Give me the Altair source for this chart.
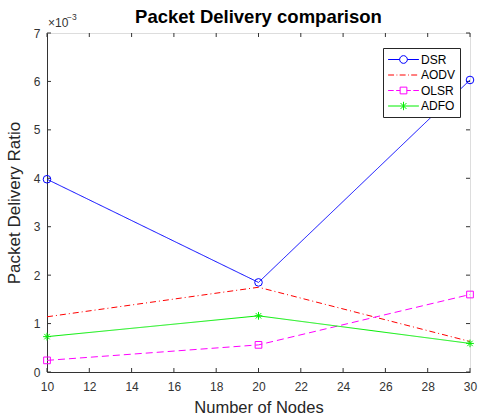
import altair as alt
import pandas as pd

nodes = [10, 20, 30]
series_names = ["DSR", "AODV", "OLSR", "ADFO"]
dsr = [0.00398, 0.00185, 0.00603]
aodv = [0.00114, 0.00175, 0.00063]
olsr = [0.00024, 0.00056, 0.00160]
adfo = [0.00073, 0.00116, 0.00059]
x_ticks = [10, 12, 14, 16, 18, 20, 22, 24, 26, 28, 30]
y_ticks = [0, 0.001, 0.002, 0.003, 0.004, 0.005, 0.006, 0.007]
title_text = ["Packet Delivery comparison"]

colors = ["#0000ff", "#ff0000", "#ff00ff", "#00ee00"]
dashes = [[1, 0], [6, 3, 1, 3], [7, 4], [1, 0]]
ASTER = "M0,-1L0,1M-1,0L1,0M-0.7,-0.7L0.7,0.7M-0.7,0.7L0.7,-0.7"
markers = ["circle", None, "square", ASTER]
marker_sizes = [58, 0, 45, 60]

legend_paths = [
    "M-2.2,0L-0.55,0M0.55,0L2.2,0M-0.55,0A0.55,0.55,0,1,1,0.55,0A0.55,0.55,0,1,1,-0.55,0Z",
    "M-2.2,0L-1.35,0M-1.0,0L-0.88,0M-0.55,0L0.3,0M0.65,0L0.77,0M1.1,0L1.95,0",
    "M-2.2,0L-1.4,0M-1.05,0L-0.48,0M0.48,0L1.05,0M1.4,0L2.2,0M-0.48,-0.48L0.48,-0.48L0.48,0.48L-0.48,0.48Z",
    "M-2.2,0L2.2,0M0,-0.6L0,0.6M-0.42,-0.42L0.42,0.42M-0.42,0.42L0.42,-0.42",
]

values = [dsr, aodv, olsr, adfo]
rows = []
for name, vals in zip(series_names, values):
    for n, v in zip(nodes, vals):
        rows.append({"nodes": n, "value": v, "series": name})
df = pd.DataFrame(rows)

W, H = 423, 339
FONT = "Liberation Sans"

xscale = alt.Scale(domain=[10, 30], nice=False, zero=False)
yscale = alt.Scale(domain=[0, 0.007], nice=False)

base = alt.Chart(df)

layers = []
axes_layer = base.mark_point(opacity=0).encode(
    x=alt.X("nodes:Q", scale=xscale,
            axis=alt.Axis(values=x_ticks, ticks=False, grid=False, title="Number of Nodes",
                          labelFontSize=12, labelColor="#333", labelFont=FONT, labelPadding=9,
                          titleFontSize=16.5, titleFont=FONT, titleFontWeight="normal",
                          titleColor="#262626", titlePadding=7, domainColor="#333",
                          labelFlush=False)),
    y=alt.Y("value:Q", scale=yscale,
            axis=alt.Axis(values=y_ticks, ticks=False, grid=False, title="Packet Delivery Ratio",
                          labelExpr="format(datum.value*1000, 'd')",
                          labelFontSize=12, labelColor="#333", labelFont=FONT, labelPadding=7,
                          titleFontSize=17, titleFont=FONT, titleFontWeight="normal",
                          titleColor="#262626", titlePadding=10, domainColor="#333")),
)
layers.append(axes_layer)

xt = pd.DataFrame({"t": x_ticks})
yt = pd.DataFrame({"t": y_ticks})
tick_color = "#333"
layers.append(alt.Chart(xt).mark_rule(color=tick_color, strokeWidth=1).encode(
    x=alt.X("t:Q", scale=xscale), y=alt.value(H), y2=alt.value(H - 4)))
layers.append(alt.Chart(xt).mark_rule(color=tick_color, strokeWidth=1).encode(
    x=alt.X("t:Q", scale=xscale), y=alt.value(0), y2=alt.value(4)))
layers.append(alt.Chart(yt).mark_rule(color=tick_color, strokeWidth=1).encode(
    y=alt.Y("t:Q", scale=yscale), x=alt.value(0), x2=alt.value(4)))
layers.append(alt.Chart(yt).mark_rule(color=tick_color, strokeWidth=1).encode(
    y=alt.Y("t:Q", scale=yscale), x=alt.value(W), x2=alt.value(W - 4)))

for name, c, d, m, s in zip(series_names, colors, dashes, markers, marker_sizes):
    sub = base.transform_filter(alt.datum.series == name)
    layers.append(sub.mark_line(color=c, strokeWidth=1, strokeDash=d).encode(
        x=alt.X("nodes:Q", scale=xscale), y=alt.Y("value:Q", scale=yscale)))
    if m is not None:
        layers.append(sub.mark_point(shape=m, color=c, filled=False, size=s, strokeWidth=1,
                                     opacity=1).encode(
            x=alt.X("nodes:Q", scale=xscale), y=alt.Y("value:Q", scale=yscale)))

legend_layer = base.mark_point(opacity=0, filled=False).encode(
    x=alt.X("nodes:Q", scale=xscale),
    y=alt.Y("value:Q", scale=yscale),
    color=alt.Color("series:N", scale=alt.Scale(domain=series_names, range=colors),
                    legend=alt.Legend(title=None, orient="none", legendX=336, legendY=15,
                                      strokeColor="#262626", fillColor="white", padding=4,
                                      symbolSize=196, symbolStrokeWidth=1, symbolOpacity=1,
                                      labelFontSize=12, labelFont=FONT, labelColor="#000",
                                      labelOffset=10, rowPadding=1.5, symbolOffset=9)),
    shape=alt.Shape("series:N", scale=alt.Scale(domain=series_names, range=legend_paths),
                    legend=alt.Legend(title=None, orient="none", legendX=336, legendY=15)),
)
layers.append(legend_layer)

mult = pd.DataFrame({"txt": ["\u00d710"]})
sup = pd.DataFrame({"txt": ["\u22123"]})
ttl = pd.DataFrame({"txt": title_text})
layers.append(alt.Chart(mult).mark_text(align="left", baseline="alphabetic", fontSize=12,
                                         font=FONT, color="#333").encode(
    text="txt:N", x=alt.value(1), y=alt.value(-6)))
layers.append(alt.Chart(sup).mark_text(align="left", baseline="alphabetic", fontSize=8.5,
                                        font=FONT, color="#333").encode(
    text="txt:N", x=alt.value(20), y=alt.value(-13)))
layers.append(alt.Chart(ttl).mark_text(align="center", baseline="alphabetic", fontSize=18.5,
                                        font=FONT, fontWeight="bold", color="#000").encode(
    text="txt:N", x=alt.value(W / 2), y=alt.value(-10)))

chart = alt.layer(*layers).properties(
    width=W, height=H,
    autosize=alt.AutoSizeParams(type="none"),
    padding={"left": 47, "top": 33, "right": 9, "bottom": 46},
).configure_view(stroke="#333", strokeWidth=1).configure(background="white")

chart.save("out.html", embed_options={"renderer": "svg", "actions": False})
